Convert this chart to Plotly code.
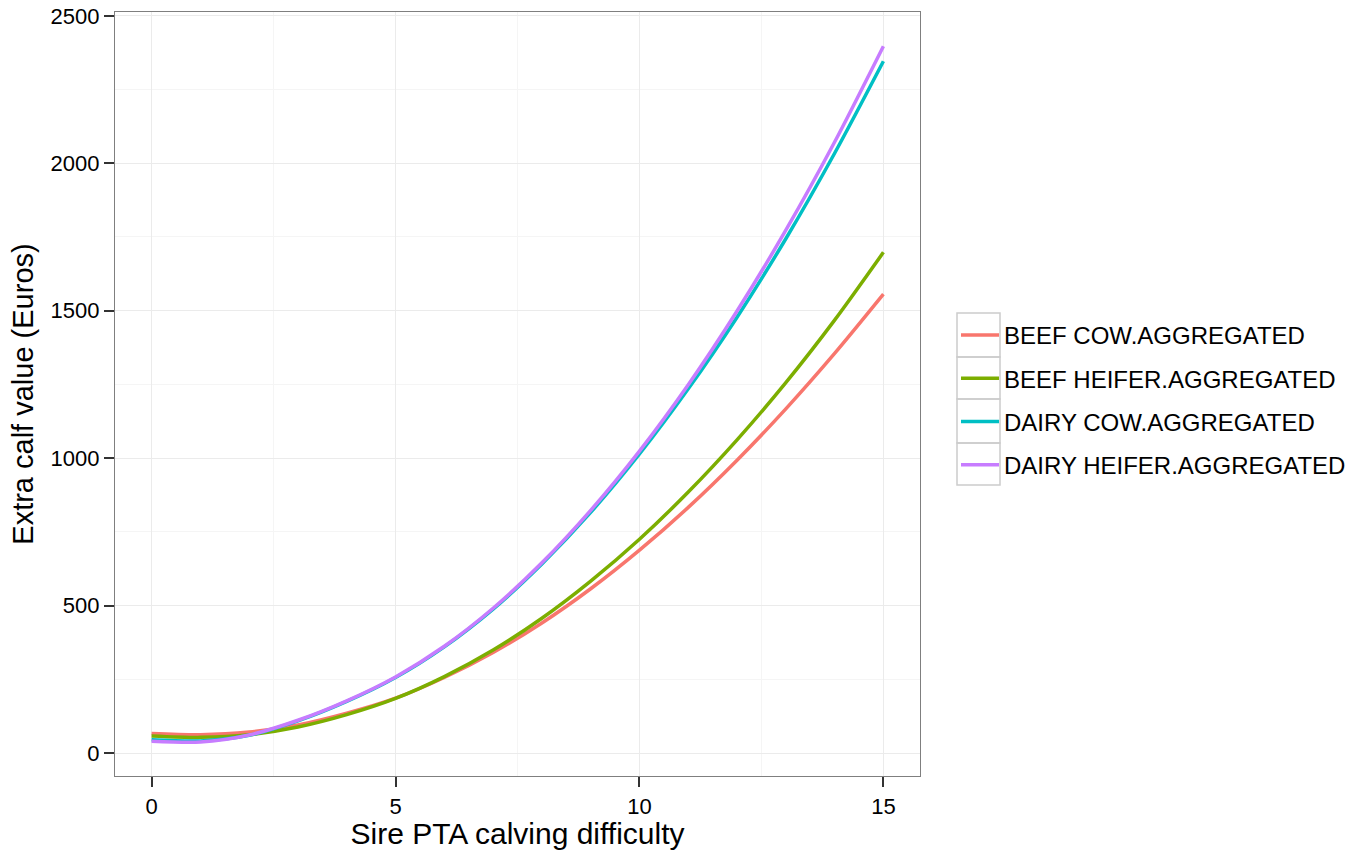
import plotly.graph_objects as go

x_vals = [0, 1, 2, 3, 4, 5, 6, 7, 8, 9, 10, 11, 12, 13, 14, 15]

beef_cow = [66, 62, 71, 95, 135, 186, 256, 341, 441, 557, 688, 833, 993, 1167, 1355, 1556]
beef_heifer = [58, 53, 62, 88, 130, 185, 259, 349, 457, 583, 725, 885, 1062, 1256, 1468, 1698]
dairy_cow = [45, 41, 60, 109, 175, 256, 360, 488, 641, 816, 1014, 1235, 1478, 1744, 2034, 2346]
dairy_heifer = [40, 37, 61, 111, 177, 258, 362, 491, 645, 823, 1024, 1249, 1499, 1773, 2072, 2397]

series_names = ["BEEF COW.AGGREGATED", "BEEF HEIFER.AGGREGATED",
                "DAIRY COW.AGGREGATED", "DAIRY HEIFER.AGGREGATED"]
series_values = [beef_cow, beef_heifer, dairy_cow, dairy_heifer]
series_colors = ["#F8766D", "#7CAE00", "#00BFC4", "#C77CFF"]

x_tick_vals = [0, 5, 10, 15]
y_tick_vals = [0, 500, 1000, 1500, 2000, 2500]

FONT = "Liberation Sans, Arial, sans-serif"

fig = go.Figure()
for i, (name, vals, col) in enumerate(zip(series_names, series_values, series_colors)):
    fig.add_trace(go.Scatter(
        x=x_vals, y=vals, mode="lines", name=name,
        line=dict(color=col, width=3.5, shape="spline", smoothing=0.8),
        legendgroup=f"g{i}",
    ))

# legend key boxes (ggplot-style), pixel positions converted to paper coords
L, R, T, B = 115, 920, 12, 776
W, H = R - L, B - T
def px_x(px):
    return (px - L) / W
def px_y(py):
    return (B - py) / H

row_edges = [313, 357, 399, 443, 485]
for k in range(4):
    fig.add_shape(type="rect", xref="paper", yref="paper",
                  x0=px_x(957), x1=px_x(1000),
                  y0=px_y(row_edges[k + 1]), y1=px_y(row_edges[k]),
                  line=dict(color="#CCCCCC", width=1.5), fillcolor="rgba(0,0,0,0)",
                  layer="below")

fig.update_layout(
    width=1351, height=850,
    margin=dict(l=L, r=1351 - R, t=T, b=850 - B, autoexpand=False),
    paper_bgcolor="white", plot_bgcolor="white",
    font=dict(family=FONT, color="black"),
    showlegend=True,
    legend=dict(
        x=px_x(956), y=px_y(400), xanchor="left", yanchor="middle",
        font=dict(size=24, family=FONT, color="black"),
        tracegroupgap=9,
        bgcolor="rgba(0,0,0,0)",
        itemwidth=38,
    ),
    xaxis=dict(
        range=[-0.75, 15.75],
        tickvals=x_tick_vals,
        ticks="outside", ticklen=10, tickwidth=1.5, tickcolor="#333333",
        tickfont=dict(size=22, family=FONT, color="black"),
        showgrid=True, gridcolor="#EBEBEB", gridwidth=1,
        minor=dict(dtick=2.5, showgrid=True, gridcolor="#F5F5F5", gridwidth=1, tick0=0),
        zeroline=False, automargin=False,
        showline=True, linecolor="#7F7F7F", linewidth=1.2, mirror=True,
        title=dict(text="Sire PTA calving difficulty", font=dict(size=30, family=FONT), standoff=4),
    ),
    yaxis=dict(
        range=[-78, 2513],
        tickvals=y_tick_vals,
        ticks="outside", ticklen=10, tickwidth=1.5, tickcolor="#333333",
        tickfont=dict(size=22, family=FONT, color="black"),
        showgrid=True, gridcolor="#EBEBEB", gridwidth=1,
        minor=dict(dtick=250, showgrid=True, gridcolor="#F5F5F5", gridwidth=1, tick0=0),
        zeroline=False, automargin=False,
        showline=True, linecolor="#7F7F7F", linewidth=1.2, mirror=True,
        title=dict(text="Extra calf value (Euros)", font=dict(size=29, family=FONT), standoff=8),
    ),
)

fig.write_html("out.html")
